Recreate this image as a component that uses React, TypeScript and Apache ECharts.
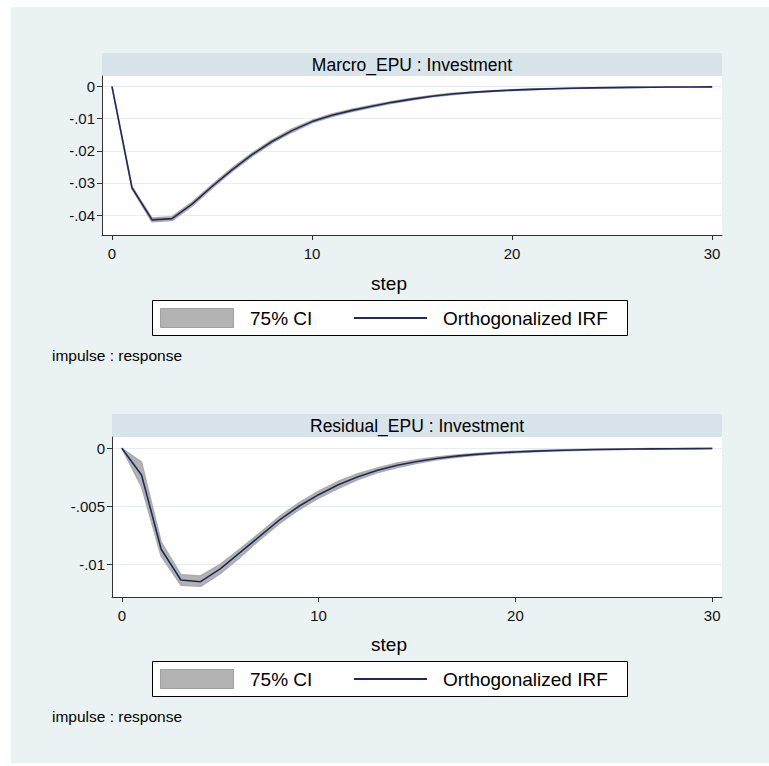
import React, { useEffect, useRef } from "react";
import * as echarts from "echarts";

const steps = [0, 1, 2, 3, 4, 5, 6, 7, 8, 9, 10, 11, 12, 13, 14, 15, 16, 17, 18, 19, 20, 21, 22, 23, 24, 25, 26, 27, 28, 29, 30];

const macroIrf = [0, -0.0315, -0.0415, -0.0411, -0.0366, -0.0311, -0.0259, -0.0212, -0.0171, -0.0137, -0.0109, -0.0089, -0.0074, -0.0061, -0.0049, -0.0039, -0.003, -0.0023, -0.0018, -0.0014, -0.0011, -0.00085, -0.00066, -0.00051, -0.0004, -0.00031, -0.00024, -0.00018, -0.00014, -0.00011, -0.00008];
const macroLo = [0, -0.0318, -0.0421, -0.0417, -0.0372, -0.0316, -0.0264, -0.0217, -0.0176, -0.0142, -0.0113, -0.0093, -0.00775, -0.0064, -0.0052, -0.00415, -0.0032, -0.0025, -0.00195, -0.00153, -0.00121, -0.00095, -0.00074, -0.00058, -0.00046, -0.00036, -0.00028, -0.00021, -0.00017, -0.00013, -0.0001];
const macroHi = [0, -0.0312, -0.0409, -0.0405, -0.036, -0.0306, -0.0254, -0.0207, -0.0166, -0.0132, -0.0105, -0.0085, -0.00705, -0.0058, -0.0046, -0.00365, -0.0028, -0.0021, -0.00165, -0.00127, -0.00099, -0.00075, -0.00058, -0.00044, -0.00034, -0.00026, -0.0002, -0.00015, -0.00011, -0.00009, -0.00006];

const residIrf = [0, -0.0023, -0.0087, -0.01135, -0.0115, -0.0104, -0.009, -0.0076, -0.0062, -0.005, -0.004, -0.00315, -0.00245, -0.0019, -0.00147, -0.00114, -0.00088, -0.00068, -0.00053, -0.00041, -0.00032, -0.00025, -0.00019, -0.00015, -0.00011, -0.00009, -0.00007, -0.00005, -0.00004, -0.00003, -0.00002];
const residLo = [0, -0.0033, -0.0093, -0.0118, -0.0119, -0.0108, -0.0094, -0.0079, -0.0065, -0.0053, -0.0043, -0.00345, -0.0027, -0.0021, -0.00167, -0.00129, -0.001, -0.00078, -0.00061, -0.00048, -0.00038, -0.0003, -0.00023, -0.00019, -0.00014, -0.00012, -0.00009, -0.00007, -0.00006, -0.00004, -0.00003];
const residHi = [0, -0.0012, -0.0081, -0.0109, -0.011, -0.01, -0.0087, -0.0073, -0.0059, -0.0047, -0.0037, -0.00285, -0.0022, -0.0017, -0.00127, -0.00099, -0.00076, -0.00058, -0.00045, -0.00034, -0.00026, -0.0002, -0.00015, -0.00011, -0.00008, -0.00006, -0.00005, -0.00003, -0.00002, -0.00002, -0.00001];

const xTicks = [0, 10, 20, 30];
const macroYTicks = [0, -0.01, -0.02, -0.03, -0.04];
const residYTicks = [0, -0.005, -0.01];

const panelTitles = ["Marcro_EPU : Investment", "Residual_EPU : Investment"];
const legendLabels = ["75% CI", "Orthogonalized IRF"];
const xAxisTitle = "step";
const noteText = "impulse : response";

const FONT = "'Liberation Sans', Arial, sans-serif";
const LINE_COLOR = "#1f2a5c";
const BAND_COLOR = "#b3b3b3";

function fmtY(v: number): string {
  if (Math.abs(v) < 1e-12) return "0";
  const s = String(Number(v.toPrecision(6)));
  return s.replace("0.", ".");
}

function pairs(xs: number[], ys: number[]) {
  return xs.map((x, i) => [x, ys[i]]);
}

export default function App() {
  const ref = useRef<HTMLDivElement>(null);
  useEffect(() => {
    if (!ref.current) return;
    const chart = echarts.init(ref.current, null, { renderer: "svg" });

    const panels = [
      { left: 102, top: 76, width: 620, height: 159, yMin: -0.0462, yMax: 0.0033, yTicks: macroYTicks, irf: macroIrf, lo: macroLo, hi: macroHi, dy: 0 },
      { left: 112, top: 437, width: 610, height: 160, yMin: -0.01282, yMax: 0.00097, yTicks: residYTicks, irf: residIrf, lo: residLo, hi: residHi, dy: 361 },
    ];

    const grids: any[] = [];
    const xAxes: any[] = [];
    const yAxes: any[] = [];
    const series: any[] = [];
    const graphics: any[] = [
      { type: "rect", shape: { x: 11, y: 7, width: 758, height: 756 }, style: { fill: "#eaf2f3" }, z: -10, silent: true },
    ];

    panels.forEach((p, i) => {
      grids.push({ left: p.left, top: p.top, width: p.width, height: p.height, show: true, backgroundColor: "#ffffff", borderWidth: 0 });
      xAxes.push({
        type: "value", gridIndex: i, min: -0.5, max: 30.5,
        axisLine: { show: true, onZero: false, lineStyle: { color: "#333", width: 1 } },
        axisTick: { show: true, length: 5, customValues: xTicks, lineStyle: { color: "#333" } },
        axisLabel: { customValues: xTicks, fontSize: 15, fontFamily: FONT, color: "#111", margin: 11 },
        splitLine: { show: false },
      });
      yAxes.push({
        type: "value", gridIndex: i, min: p.yMin, max: p.yMax,
        axisLine: { show: true, onZero: false, lineStyle: { color: "#333", width: 1 } },
        axisTick: { show: true, length: 5, customValues: p.yTicks, lineStyle: { color: "#333" } },
        axisLabel: { customValues: p.yTicks, fontSize: 15, fontFamily: FONT, color: "#111", margin: 7, formatter: (v: number) => fmtY(v) },
        splitLine: { show: true, lineStyle: { color: "#e6eef1", width: 1 } },
      });
      const lo = p.lo;
      const hi = p.hi;
      series.push({
        type: "custom", xAxisIndex: i, yAxisIndex: i,
        data: steps.map((s, k) => [s, lo[k], hi[k]]),
        encode: { x: 0, y: [1, 2] },
        silent: true, z: 2,
        renderItem: (params: any, api: any) => {
          if (params.dataIndex !== 0) return null;
          const upper = steps.map((s, k) => api.coord([s, hi[k]]));
          const lower = steps.map((s, k) => api.coord([s, lo[k]])).reverse();
          return {
            type: "polygon",
            shape: { points: upper.concat(lower) },
            style: { fill: BAND_COLOR, stroke: "#ababab", lineWidth: 1.5, lineJoin: "round" },
          };
        },
      });
      series.push({
        type: "line", xAxisIndex: i, yAxisIndex: i, data: pairs(steps, p.irf),
        symbol: "none", lineStyle: { width: 1.6, color: LINE_COLOR }, silent: true, z: 3,
      });

      // title strip
      graphics.push({ type: "rect", shape: { x: p.left, y: p.top - 23, width: p.width, height: 23 }, style: { fill: "#d8e4e9" }, silent: true });
      graphics.push({ type: "text", x: p.left + p.width / 2, y: p.top - 11.5, style: { text: panelTitles[i], fontSize: 17.5, fontFamily: FONT, fill: "#000", align: "center", verticalAlign: "middle" }, silent: true });
      // x axis title
      graphics.push({ type: "text", x: 389, y: 283 + p.dy, style: { text: xAxisTitle, fontSize: 19, fontFamily: FONT, fill: "#000", align: "center", verticalAlign: "middle" }, silent: true });
      // legend box
      graphics.push({ type: "rect", shape: { x: 152.5, y: 300.5 + p.dy, width: 475, height: 35 }, style: { fill: "#fff", stroke: "#000", lineWidth: 1 }, silent: true });
      graphics.push({ type: "rect", shape: { x: 160.5, y: 308.5 + p.dy, width: 73, height: 19 }, style: { fill: BAND_COLOR, stroke: "#a0a0a0", lineWidth: 1 }, silent: true });
      graphics.push({ type: "text", x: 250, y: 318 + p.dy, style: { text: legendLabels[0], fontSize: 19, fontFamily: FONT, fill: "#000", align: "left", verticalAlign: "middle" }, silent: true });
      graphics.push({ type: "line", shape: { x1: 354, y1: 318 + p.dy, x2: 427, y2: 318 + p.dy }, style: { stroke: LINE_COLOR, lineWidth: 1.8 }, silent: true });
      graphics.push({ type: "text", x: 443, y: 318 + p.dy, style: { text: legendLabels[1], fontSize: 19, fontFamily: FONT, fill: "#000", align: "left", verticalAlign: "middle" }, silent: true });
      // note
      graphics.push({ type: "text", x: 52, y: 355 + p.dy, style: { text: noteText, fontSize: 15.5, fontFamily: FONT, fill: "#000", align: "left", verticalAlign: "middle" }, silent: true });
    });

    chart.setOption({
      animation: false,
      backgroundColor: "#ffffff",
      grid: grids,
      xAxis: xAxes,
      yAxis: yAxes,
      series,
      graphic: { elements: graphics },
    });
    return () => chart.dispose();
  }, []);

  return (
    <div
      ref={ref}
      style={{ position: "fixed", left: 0, top: 0, width: 769, height: 766 }}
    />
  );
}
